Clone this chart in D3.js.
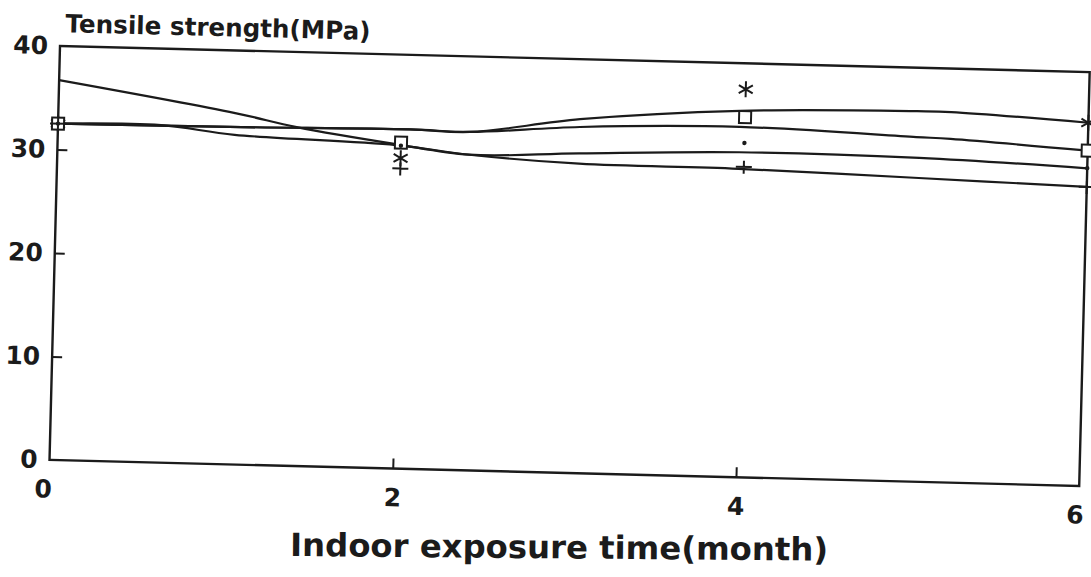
<!DOCTYPE html>
<html>
<head>
<meta charset="utf-8">
<script src="https://cdn.jsdelivr.net/npm/d3@7/dist/d3.min.js"></script>
<style>
  body { margin: 0; background: #fff; }
  #wrapper svg { display: block; }
  .tick text { font-family: 'DejaVu Sans', sans-serif; font-weight: bold; font-size: 25px; fill: #1b1b1b; }
  .tick line { stroke: #1b1b1b; stroke-width: 2; }
</style>
</head>
<body>
<div id="wrapper"></div>
<script>
// measured points (months) and tensile strength (MPa)
const months = [0, 2, 4, 6];
const starValues = [32.5, 30.0, 37.5, 35.1];
const squareValues = [32.5, 31.5, 34.8, 32.4];
const dotValues = [32.5, 31.2, 32.3, 30.7];
const plusValues = [32.5, 29.0, 30.0, 28.9];

// fitted curves as [month, MPa]
const starFit = [[0, 32.5], [1.0, 32.6], [2.05, 32.8], [2.4, 32.7], [3.04, 34.2], [3.97, 35.4], [5.0, 35.8], [5.2, 35.8], [6, 35.1]];
const squareFit = [[0, 32.5], [1.0, 32.6], [2.05, 32.8], [2.4, 32.7], [3.04, 33.45], [3.97, 33.85], [5.0, 33.3], [5.2, 33.2], [6, 32.4]];
const dotFit = [[0, 36.7], [1.03, 33.95], [1.39, 32.75], [1.97, 31.35], [2.4, 30.5], [3.04, 30.9], [3.97, 31.4], [5.02, 31.3], [6, 30.7]];
const plusFit = [[0, 32.5], [0.6, 32.6], [1.03, 31.85], [1.97, 31.25], [2.4, 30.5], [3.04, 29.9], [3.97, 29.8], [5.02, 29.35], [6, 28.9]];

const xTicks = [0, 2, 4, 6];
const yTicks = [0, 10, 20, 30, 40];

function drawChart() {
  let dimensions = {
    width: 1091,
    height: 577,
    margin: { top: 46, left: 60 },
    boundedWidth: 1030,
    boundedHeight: 414,
    tilt: 1.45, // the scan is slightly rotated
  };

  const wrapper = d3.select('#wrapper')
    .append('svg')
    .attr('width', dimensions.width)
    .attr('height', dimensions.height);

  wrapper.append('rect')
    .attr('width', dimensions.width)
    .attr('height', dimensions.height)
    .attr('fill', '#fff');

  const bounds = wrapper.append('g')
    .attr('transform', `translate(${dimensions.margin.left},${dimensions.margin.top}) rotate(${dimensions.tilt})`);

  const xScale = d3.scaleLinear()
    .domain([0, 6])
    .range([0, dimensions.boundedWidth]);

  const yScale = d3.scaleLinear()
    .domain([0, 40])
    .range([dimensions.boundedHeight, 0]);

  // frame
  bounds.append('rect')
    .attr('width', dimensions.boundedWidth)
    .attr('height', dimensions.boundedHeight)
    .attr('fill', 'none')
    .attr('stroke', '#1b1b1b')
    .attr('stroke-width', 2.4);

  const yAxis = bounds.append('g')
    .call(d3.axisLeft(yScale).tickValues(yTicks).tickFormat(d3.format('d')).tickSize(-10).tickPadding(12));
  yAxis.select('.domain').remove();

  const xAxis = bounds.append('g')
    .attr('transform', `translate(0,${dimensions.boundedHeight})`)
    .call(d3.axisBottom(xScale).tickValues(xTicks).tickFormat(d3.format('d')).tickSize(-10).tickPadding(20));
  xAxis.select('.domain').remove();
  xAxis.selectAll('.tick line').filter((d) => d === 0 || d === 6).remove();
  yAxis.selectAll('.tick line').filter((d) => d === 0 || d === 40).remove();
  xAxis.selectAll('.tick text').filter((d) => d === 0).attr('x', -6);
  xAxis.selectAll('.tick text').filter((d) => d === 6).attr('x', -4);

  // fitted curves
  const lineGenerator = d3.line()
    .x((d) => xScale(d[0]))
    .y((d) => yScale(d[1]))
    .curve(d3.curveCatmullRom.alpha(0.5));

  bounds.append('g')
    .selectAll('path')
    .data([starFit, squareFit, dotFit, plusFit])
    .join('path')
    .attr('d', lineGenerator)
    .attr('fill', 'none')
    .attr('stroke', '#1b1b1b')
    .attr('stroke-width', 2.2);

  // markers
  const markers = bounds.append('g')
    .attr('stroke', '#1b1b1b')
    .attr('stroke-width', 2)
    .attr('fill', 'none');

  const place = (values) => months.map((m, i) => [xScale(m), yScale(values[i])]);

  markers.selectAll('.star')
    .data(place(starValues))
    .join('path')
    .attr('class', 'star')
    .attr('transform', (d) => `translate(${d[0]},${d[1]})`)
    .attr('d', 'M0,-8V8M-7,-4L7,4M-7,4L7,-4');

  markers.selectAll('.square')
    .data(place(squareValues))
    .join('rect')
    .attr('class', 'square')
    .attr('x', (d) => d[0] - 6)
    .attr('y', (d) => d[1] - 6)
    .attr('width', 12)
    .attr('height', 12)
    .attr('fill', '#fff');

  markers.selectAll('.dot')
    .data(place(dotValues))
    .join('circle')
    .attr('class', 'dot')
    .attr('cx', (d) => d[0])
    .attr('cy', (d) => d[1])
    .attr('r', 2.2)
    .attr('fill', '#1b1b1b')
    .attr('stroke', 'none');

  markers.selectAll('.plus')
    .data(place(plusValues))
    .join('path')
    .attr('class', 'plus')
    .attr('transform', (d) => `translate(${d[0]},${d[1]})`)
    .attr('d', 'M-8,0H8M0,-6V7');

  // labels
  bounds.append('text')
    .attr('x', 5)
    .attr('y', -14)
    .attr('textLength', 305)
    .attr('lengthAdjust', 'spacingAndGlyphs')
    .style('font-family', "'DejaVu Sans', sans-serif")
    .style('font-weight', 'bold')
    .style('font-size', '25px')
    .style('fill', '#1b1b1b')
    .text('Tensile strength(MPa)');

  wrapper.append('text')
    .attr('x', 290)
    .attr('y', 556)
    .attr('transform', 'rotate(0.5 290 556)')
    .attr('textLength', 538)
    .attr('lengthAdjust', 'spacingAndGlyphs')
    .style('font-family', "'DejaVu Sans', sans-serif")
    .style('font-weight', 'bold')
    .style('font-size', '32px')
    .style('fill', '#1b1b1b')
    .text('Indoor exposure time(month)');
}

drawChart();
</script>
</body>
</html>
